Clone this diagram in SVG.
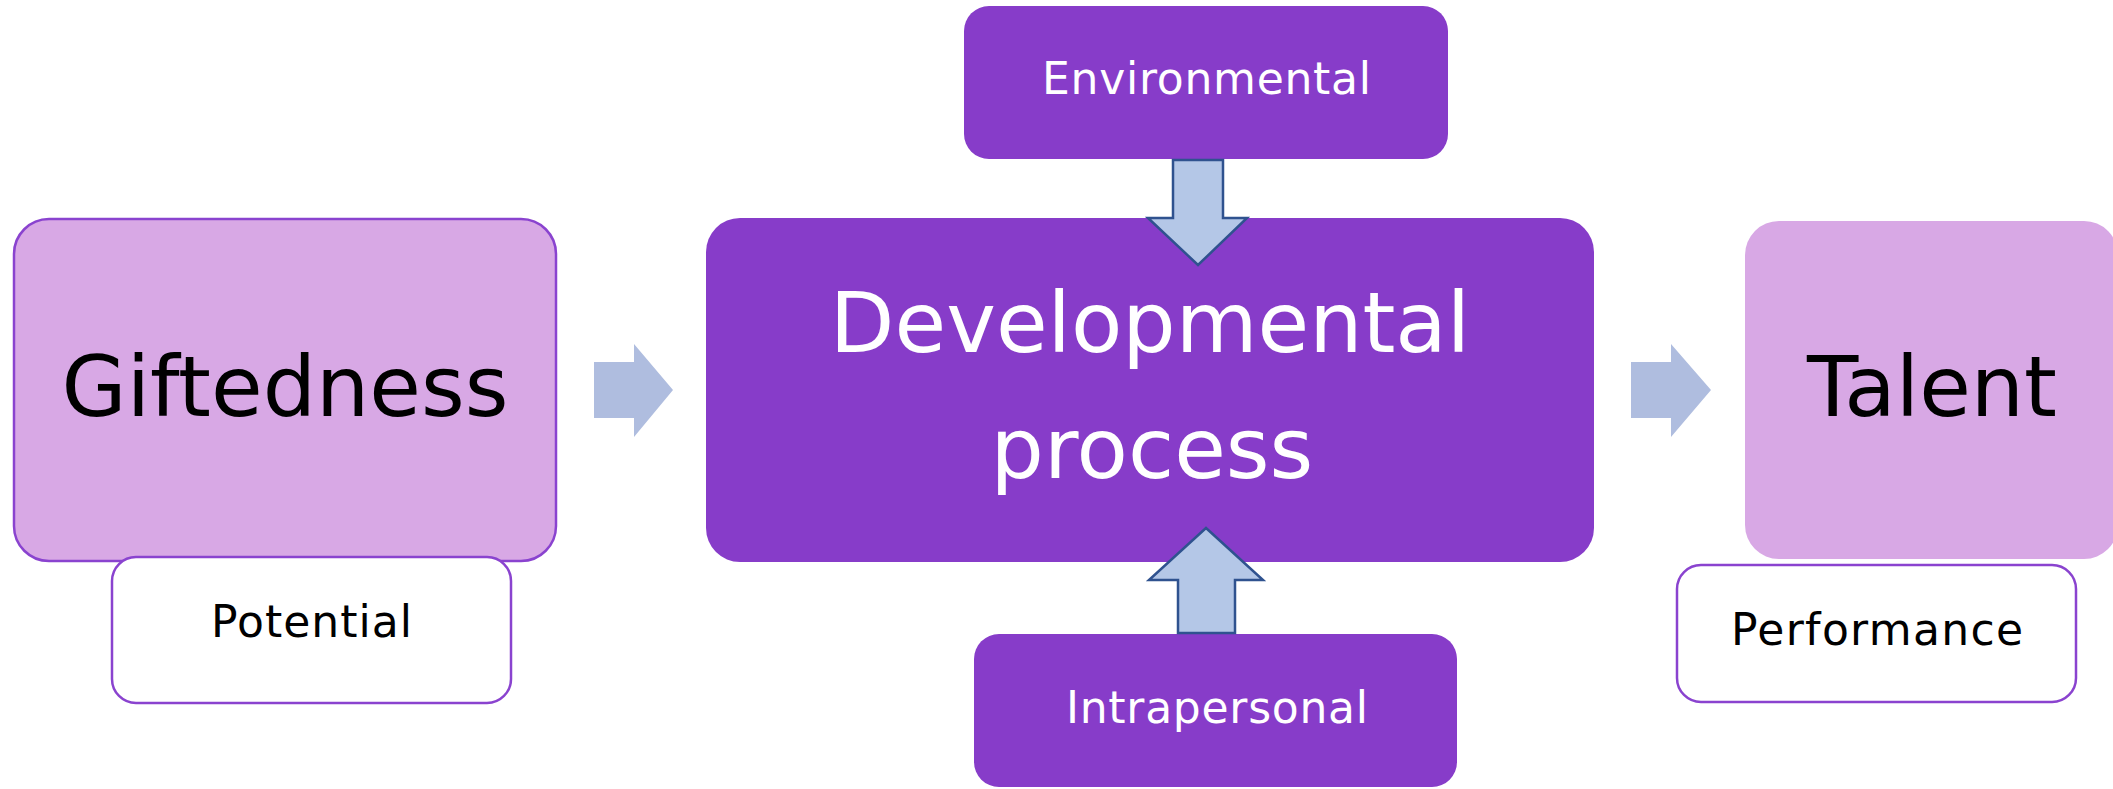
<svg xmlns="http://www.w3.org/2000/svg" width="2113" height="789" viewBox="0 0 2113 789">
<style>
  .light { fill: #d8a8e5; stroke: #8a43cf; stroke-width: 2.5; }
  .talent { fill: #d8a8e5; }
  .dark { fill: #873cc9; }
  .sub { fill: #ffffff; stroke: #8a43cf; stroke-width: 2.5; }
  .t { font-family: "DejaVu Sans", "Liberation Sans", sans-serif; text-anchor: middle; }
  .big { font-size: 84px; }
  .small { font-size: 44px; }
  .blk { fill: #000000; }
  .wht { fill: #ffffff; }
  .harrow { fill: #afbddf; }
  .varrow { fill: #b4c7e7; stroke: #2f528f; stroke-width: 2.5; stroke-linejoin: miter; }
</style>
<rect width="2113" height="789" fill="#ffffff"/>

<g id="giftedness">
  <rect class="light" x="14" y="219" width="542" height="342" rx="35" ry="35"/>
  <text class="t big blk" x="285" y="416">Giftedness</text>
</g>
<g id="potential">
  <rect class="sub" x="112" y="557" width="399" height="146" rx="24" ry="24"/>
  <text class="t small blk" x="311.5" y="637" textLength="201" lengthAdjust="spacing">Potential</text>
</g>
<g id="developmental">
  <rect class="dark" x="706" y="218" width="888" height="344" rx="34" ry="34"/>
  <text class="t big wht" x="1150" y="352">Developmental</text>
  <text class="t big wht" x="1152" y="478">process</text>
</g>
<g id="environmental">
  <rect class="dark" x="964" y="6" width="484" height="153" rx="25" ry="25"/>
  <text class="t small wht" x="1206.5" y="94" textLength="329" lengthAdjust="spacing">Environmental</text>
</g>
<g id="intrapersonal">
  <rect class="dark" x="974" y="634" width="483" height="153" rx="25" ry="25"/>
  <text class="t small wht" x="1217" y="723" textLength="302" lengthAdjust="spacing">Intrapersonal</text>
</g>
<g id="talent">
  <rect class="talent" x="1745" y="221" width="373" height="338" rx="34" ry="34"/>
  <text class="t big blk" x="1932" y="416">Talent</text>
</g>
<g id="performance">
  <rect class="sub" x="1677" y="565" width="399" height="137" rx="24" ry="24"/>
  <text class="t small blk" x="1877" y="645" textLength="292" lengthAdjust="spacing">Performance</text>
</g>

<g id="connectors">
  <polygon class="harrow" points="594,362 634,362 634,344 673,390 634,437 634,418 594,418"/>
  <polygon class="harrow" points="1631,362 1671,362 1671,344 1711,390 1671,437 1671,418 1631,418"/>
  <polygon class="varrow" points="1173,160 1223,160 1223,218 1247,218 1198,265 1148,218 1173,218"/>
  <polygon class="varrow" points="1206,528 1263,580 1235,580 1235,633 1178,633 1178,580 1149,580"/>
</g>
</svg>
